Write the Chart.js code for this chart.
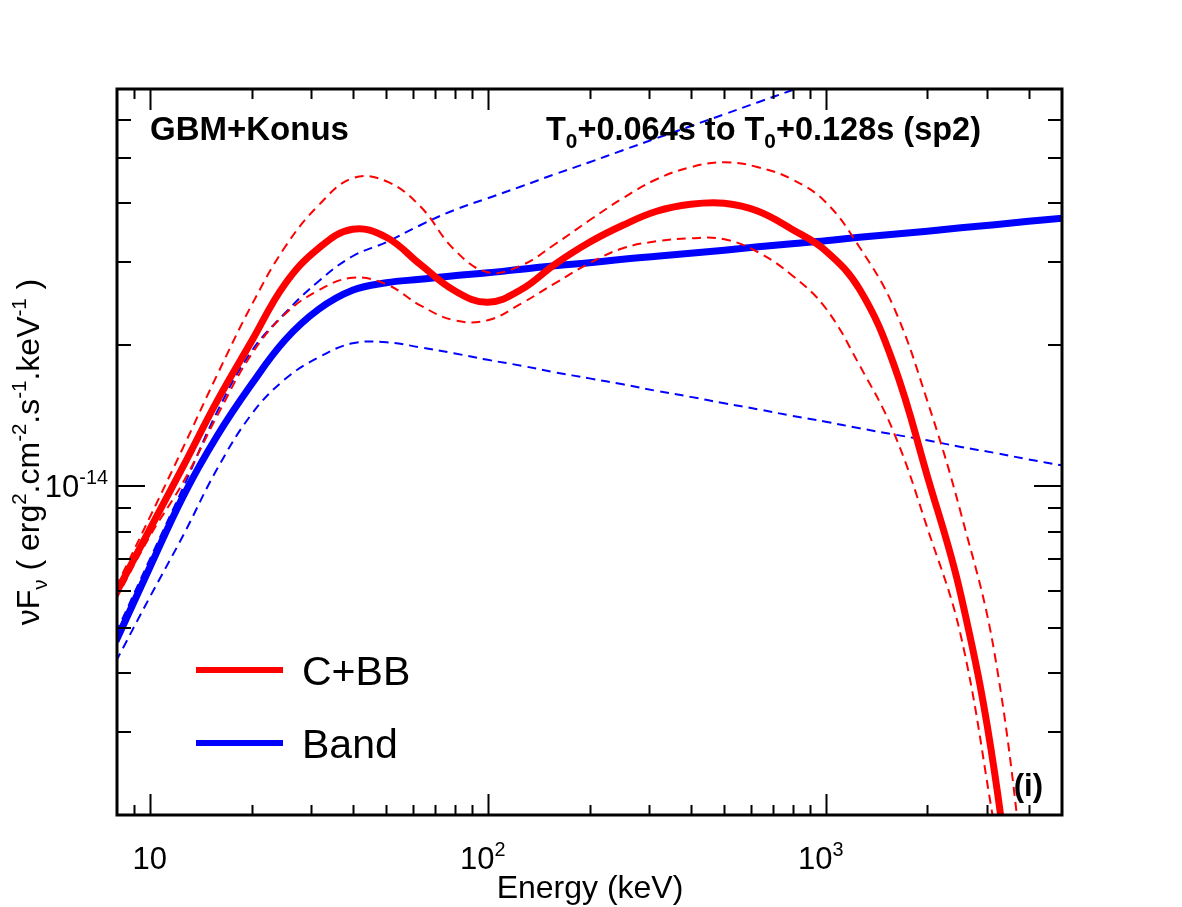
<!DOCTYPE html>
<html>
<head>
<meta charset="utf-8">
<script src="https://cdn.jsdelivr.net/npm/chart.js@4.4.1/dist/chart.umd.min.js"></script>
<style>
  html, body { margin: 0; padding: 0; background: #fff; }
  #wrap { width: 1182px; height: 907px; }
</style>
</head>
<body>
<div id="wrap"><canvas id="spec"></canvas></div>
<script>
// energies in keV (same grid for every curve)
const energy = [7.94, 10, 12.6, 15.8, 20, 25.1, 31.6, 39.8, 50.1, 63.1, 79.4, 100, 126, 158, 200, 251, 316, 398,
  501, 631, 794, 1000, 1259, 1585, 1995, 2512, 3162, 3981, 5012];

// C+BB model, nuFnu (erg^2 cm^-2 s^-1 keV^-1)
const cbb = [5.92e-15, 8.10e-15, 1.108e-14, 1.516e-14, 2.034e-14, 2.691e-14, 3.209e-14, 3.523e-14, 3.387e-14, 2.967e-14,
  2.612e-14, 2.463e-14, 2.625e-14, 2.967e-14, 3.305e-14, 3.592e-14, 3.847e-14, 3.981e-14, 4.000e-14, 3.847e-14,
  3.523e-14, 3.17e-14, 2.625e-14, 1.827e-14, 1.055e-14, 5.86e-15, 2.45e-15, 6.34e-16, null];
const cbbHi = [6.10e-15, 8.59e-15, 1.216e-14, 1.722e-14, 2.427e-14, 3.225e-14, 3.962e-14, 4.522e-14, 4.456e-14, 3.942e-14,
  3.194e-14, 2.853e-14, 2.953e-14, 3.273e-14, 3.681e-14, 4.100e-14, 4.500e-14, 4.772e-14, 4.891e-14, 4.772e-14,
  4.500e-14, 4.021e-14, 3.225e-14, 2.415e-14, 1.524e-14, 8.76e-15, 4.39e-15, 1.25e-15, null];
const cbbLo = [5.75e-15, 7.83e-15, 1.025e-14, 1.409e-14, 1.909e-14, 2.323e-14, 2.612e-14, 2.777e-14, 2.691e-14, 2.427e-14,
  2.256e-14, 2.256e-14, 2.451e-14, 2.703e-14, 2.982e-14, 3.209e-14, 3.321e-14, 3.370e-14, 3.354e-14, 3.147e-14,
  2.812e-14, 2.392e-14, 1.809e-14, 1.309e-14, 8.18e-15, 4.80e-15, 1.88e-15, null, null];

// Band model
const band = [4.68e-15, 6.72e-15, 9.57e-15, 1.278e-14, 1.648e-14, 2.045e-14, 2.380e-14, 2.612e-14, 2.710e-14, 2.757e-14,
  2.805e-14, 2.846e-14, 2.896e-14, 2.945e-14, 2.989e-14, 3.041e-14, 3.086e-14, 3.131e-14, 3.178e-14, 3.232e-14,
  3.281e-14, 3.329e-14, 3.387e-14, 3.437e-14, 3.488e-14, 3.548e-14, 3.601e-14, 3.663e-14, 3.718e-14];
const bandHi = [4.87e-15, 6.99e-15, 1.00e-14, 1.437e-14, 1.938e-14, 2.334e-14, 2.731e-14, 3.086e-14, 3.305e-14, 3.592e-14,
  3.867e-14, 4.100e-14, 4.347e-14, 4.612e-14, 4.891e-14, 5.187e-14, 5.501e-14, 5.834e-14, 6.186e-14, 6.561e-14,
  6.959e-14, 7.38e-14, null, null, null, null, null, null, null];
const bandLo = [4.24e-15, 5.81e-15, 7.90e-15, 1.087e-14, 1.423e-14, 1.689e-14, 1.881e-14, 2.015e-14, 2.025e-14, 1.976e-14,
  1.919e-14, 1.858e-14, 1.805e-14, 1.748e-14, 1.697e-14, 1.648e-14, 1.596e-14, 1.550e-14, 1.502e-14, 1.458e-14,
  1.413e-14, 1.372e-14, 1.329e-14, 1.290e-14, 1.253e-14, 1.213e-14, 1.178e-14, 1.141e-14, 1.108e-14];

// axis ticks
const xMajor = [10, 100, 1000];
const xMajorLabels = [["10", ""], ["10", "2"], ["10", "3"]];
const xMinor = [9, 20, 30, 40, 50, 60, 70, 80, 90, 200, 300, 400, 500, 600, 700, 800, 900, 2000, 3000, 4000];
const yMajor = [1e-14];
const yMajorLabels = [["10", "-14"]];
const yMinor = [3e-15, 4e-15, 5e-15, 6e-15, 7e-15, 8e-15, 9e-15, 2e-14, 3e-14, 4e-14, 5e-14, 6e-14];

const legendLabels = ["C+BB", "Band"];

const RED = "#ff0000";
const BLUE = "#0000ff";
const FONT = "'Liberation Sans', Arial, Helvetica, sans-serif";

function pts(ys) {
  return energy.map((e, i) => ({ x: e, y: ys[i] }));
}

function thick(label, ys, color) {
  return { label: label, data: pts(ys), borderColor: color, borderWidth: 7, pointRadius: 0,
    tension: 0.4, clip: 0, fill: false };
}
function dashed(ys, color) {
  return { label: "", data: pts(ys), borderColor: color, borderWidth: 2, borderDash: [9, 6], pointRadius: 0,
    tension: 0.4, clip: 0, fill: false };
}

// draw a string made of [text, mode] parts, mode 1 = superscript, -1 = subscript
function rich(ctx, parts, x, y, size, weight, align) {
  const small = size * 0.64;
  let w = 0;
  parts.forEach(p => {
    ctx.font = weight + " " + (p[1] ? small : size) + "px " + FONT;
    w += ctx.measureText(p[0]).width;
  });
  let cx = align === "center" ? x - w / 2 : align === "right" ? x - w : x;
  ctx.textAlign = "left";
  ctx.textBaseline = "alphabetic";
  parts.forEach(p => {
    ctx.font = weight + " " + (p[1] ? small : size) + "px " + FONT;
    const dy = p[1] === 1 ? -size * 0.42 : p[1] === -1 ? size * 0.25 : 0;
    ctx.fillText(p[0], cx, y + dy);
    cx += ctx.measureText(p[0]).width;
  });
}

const decor = {
  id: "decor",
  afterDatasetsDraw(chart) {
    const ctx = chart.ctx;
    const a = chart.chartArea;
    const xs = chart.scales.x, ys = chart.scales.y;
    ctx.save();
    ctx.fillStyle = "#000";
    ctx.strokeStyle = "#000";

    // ticks on all four sides, pointing inwards
    ctx.lineWidth = 2;
    ctx.beginPath();
    const xt = (v, len) => {
      const px = Math.round(xs.getPixelForValue(v)) + 0.5;
      ctx.moveTo(px, a.bottom); ctx.lineTo(px, a.bottom - len);
      ctx.moveTo(px, a.top); ctx.lineTo(px, a.top + len);
    };
    const yt = (v, len) => {
      const py = Math.round(ys.getPixelForValue(v));
      ctx.moveTo(a.left, py); ctx.lineTo(a.left + len, py);
      ctx.moveTo(a.right, py); ctx.lineTo(a.right - len, py);
    };
    xMinor.forEach(v => xt(v, 10));
    xMajor.forEach(v => xt(v, 21));
    yMinor.forEach(v => yt(v, 14));
    yMajor.forEach(v => yt(v, 28));
    ctx.stroke();

    // frame
    ctx.lineWidth = 3;
    ctx.strokeRect(a.left, a.top, a.right - a.left, a.bottom - a.top);

    // tick labels
    xMajor.forEach((v, i) => {
      const l = xMajorLabels[i];
      const parts = l[1] ? [[l[0], 0], [l[1], 1]] : [[l[0], 0]];
      rich(ctx, parts, xs.getPixelForValue(v) - (l[1] ? 5 : 0), a.bottom + 54, 31, "", "center");
    });
    yMajor.forEach((v, i) => {
      const l = yMajorLabels[i];
      rich(ctx, [[l[0], 0], [l[1], 1]], a.left - 9, ys.getPixelForValue(v) + 11, 31, "", "right");
    });

    // axis titles
    rich(ctx, [["Energy (keV)", 0]], 590, 898, 32, "", "center");
    ctx.save();
    ctx.translate(39, 452);
    ctx.rotate(-Math.PI / 2);
    rich(ctx, [["\u03bdF", 0], ["\u03bd", -1], [" ( erg", 0], ["2", 1], [".cm", 0], ["-2", 1],
      [".s", 0], ["-1", 1], [".keV", 0], ["-1", 1], [" )", 0]], 0, 0, 32, "", "center");
    ctx.restore();

    // annotations
    rich(ctx, [["GBM+Konus", 0]], 150, 140, 33, "bold", "left");
    rich(ctx, [["T", 0], ["0", -1], ["+0.064s to T", 0], ["0", -1], ["+0.128s (sp2)", 0]],
      981, 140, 32.5, "bold", "right");
    rich(ctx, [["(i)", 0]], 1043, 796, 31, "bold", "right");

    // legend
    const lg = [[legendLabels[0], RED, 670], [legendLabels[1], BLUE, 743]];
    lg.forEach(r => {
      ctx.strokeStyle = r[1];
      ctx.lineWidth = 6;
      ctx.beginPath();
      ctx.moveTo(196, r[2]); ctx.lineTo(283, r[2]);
      ctx.stroke();
      ctx.fillStyle = "#000";
      rich(ctx, [[r[0], 0]], 302, r[2] + 15, 41, "", "left");
    });
    ctx.restore();
  }
};

new Chart(document.getElementById("spec"), {
  type: "line",
  data: {
    datasets: [
      dashed(cbbHi, RED),
      dashed(cbbLo, RED),
      thick(legendLabels[0], cbb, RED),
      dashed(bandHi, BLUE),
      dashed(bandLo, BLUE),
      thick(legendLabels[1], band, BLUE)
    ]
  },
  options: {
    responsive: true,
    maintainAspectRatio: false,
    animation: false,
    layout: { padding: { left: 117, right: 120, top: 89, bottom: 92 } },
    plugins: { legend: { display: false }, tooltip: { enabled: false } },
    scales: {
      x: { type: "logarithmic", min: 8, max: 5000, display: false },
      y: { type: "logarithmic", min: 2e-15, max: 7e-14, display: false }
    }
  },
  plugins: [decor]
});
</script>
</body>
</html>
